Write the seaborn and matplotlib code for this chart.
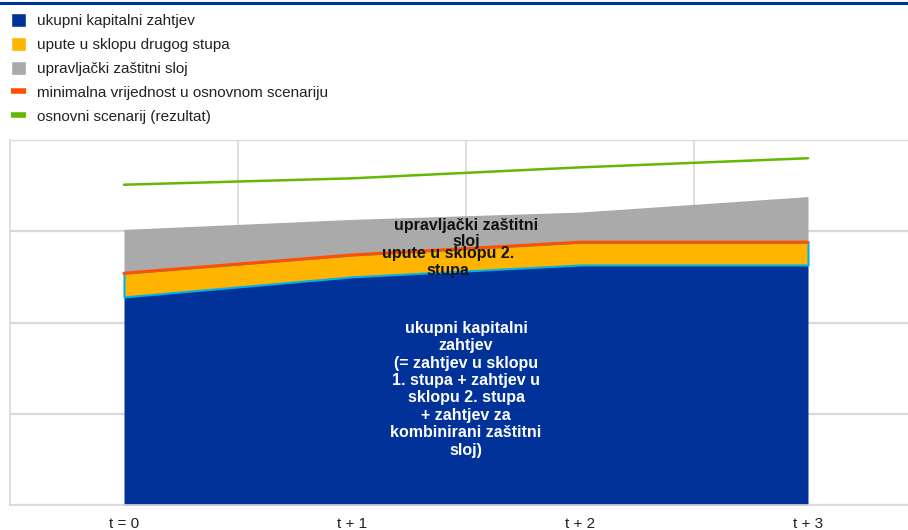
import numpy as np
import pandas as pd
import seaborn as sns
import matplotlib.pyplot as plt
from matplotlib.patches import Patch
from matplotlib.lines import Line2D

# chart data
periods = ["t = 0", "t + 1", "t + 2", "t + 3"]
total_capital = [2.28, 2.50, 2.63, 2.63]      # ukupni kapitalni zahtjev (top of blue)
p2g_top = [2.54, 2.74, 2.88, 2.88]            # top of orange = minimal value in baseline
buffer_top = [3.02, 3.13, 3.21, 3.38]         # top of grey management buffer
baseline = [3.51, 3.58, 3.70, 3.80]           # osnovni scenarij (rezultat)

legend_labels = ["ukupni kapitalni zahtjev",
                 "upute u sklopu drugog stupa",
                 "upravljački zaštitni sloj",
                 "minimalna vrijednost u osnovnom scenariju",
                 "osnovni scenarij (rezultat)"]

BLUE = "#003299"
ORANGE = "#ffb400"
GREY = "#aaaaaa"
RED = "#ff4f00"
GREEN = "#65b800"
CYAN = "#00b1ea"

sns.set_theme(style="white")
plt.rcParams["font.family"] = ["Liberation Sans", "DejaVu Sans"]

df = pd.DataFrame({"x": np.arange(len(periods)), "blue": total_capital,
                   "orange": p2g_top, "grey": buffer_top, "green": baseline})

fig = plt.figure(figsize=(9.08, 5.30), dpi=100)
ax = fig.add_axes([10 / 908, 25 / 530, 912 / 908, 365 / 530])

# stacked areas
ax.fill_between(df["x"], 0, df["blue"], color=BLUE, lw=0, zorder=2)
ax.fill_between(df["x"], df["blue"], df["orange"], facecolor=ORANGE,
                edgecolor=CYAN, lw=1.5, zorder=2)
ax.fill_between(df["x"], df["orange"], df["grey"], color=GREY, lw=0, zorder=2)

# lines
sns.lineplot(data=df, x="x", y="orange", color=RED, lw=2.2, ax=ax, zorder=3)
sns.lineplot(data=df, x="x", y="green", color=GREEN, lw=1.8, ax=ax, zorder=3)

ax.set_xlim(-0.5, 3.5)
ax.set_ylim(0, 4)
ax.set_xticks(df["x"])
ax.set_xticklabels(periods, fontsize=11, color="#222222")
ax.set_yticks(np.arange(0, 5))
ax.set_yticklabels([])
ax.set_xticks([0.5, 1.5, 2.5], minor=True)
ax.tick_params(axis="both", which="both", length=0)
ax.tick_params(axis="x", pad=9)
ax.set_xlabel("")
ax.set_ylabel("")
ax.grid(axis="y", color="#d9d9d9", lw=1.6, zorder=0)
ax.grid(axis="x", which="minor", color="#d9d9d9", lw=1.2, zorder=0)
for side in ["top", "right"]:
    ax.spines[side].set_visible(False)
ax.spines["left"].set_color("#d9d9d9")
ax.spines["bottom"].set_color("#d9d9d9")
ax.spines["left"].set_linewidth(1.2)
ax.spines["bottom"].set_linewidth(1.2)

# in-chart annotations
ax.text(1.5, 2.975, "upravljački zaštitni\nsloj", ha="center", va="center",
        fontsize=11.5, fontweight="bold", color="#111111", linespacing=1.15, zorder=4)
ax.text(1.42, 2.66, "upute u sklopu 2.\nstupa", ha="center", va="center",
        fontsize=11.5, fontweight="bold", color="#111111", linespacing=1.15, zorder=4)
ax.text(1.5, 1.27, "ukupni kapitalni\nzahtjev\n(= zahtjev u sklopu\n1. stupa + zahtjev u\n"
        "sklopu 2. stupa\n+ zahtjev za\nkombinirani zaštitni\nsloj)",
        ha="center", va="center", fontsize=11.5, fontweight="bold", color="white",
        linespacing=1.2, zorder=4)

# top rule
fig.add_artist(Line2D([0, 1], [1 - 3 / 530, 1 - 3 / 530], color=BLUE, lw=2.2))

# legend
handles = [Patch(facecolor=BLUE), Patch(facecolor=ORANGE), Patch(facecolor=GREY),
           Line2D([], [], color=RED, lw=4, solid_capstyle="butt"),
           Line2D([], [], color=GREEN, lw=4, solid_capstyle="butt")]
fig.legend(handles, legend_labels, loc="upper left", bbox_to_anchor=(0.0, 0.995),
           frameon=False, fontsize=11, handlelength=1.0, handleheight=1.0,
           handletextpad=0.75, labelspacing=0.58, borderaxespad=0.3,
           labelcolor="#222222")

fig.savefig("out.png", dpi=100)
